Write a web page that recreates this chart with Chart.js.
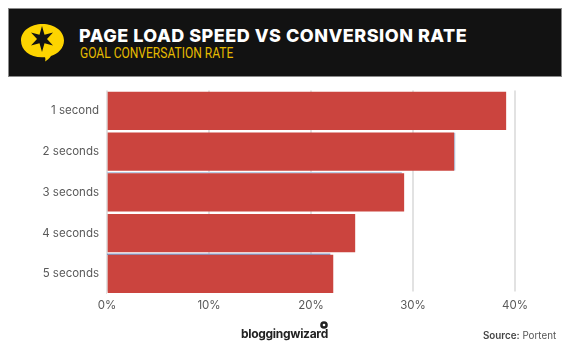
<!DOCTYPE html>
<html>
<head>
<meta charset="utf-8">
<script src="https://cdn.jsdelivr.net/npm/chart.js@4"></script>
<style>
    html, body { margin: 0; padding: 0; background: #fff; }
    #wrap { position: relative; width: 573px; height: 358px; overflow: hidden; }
    #myChart { position: absolute; left: 0; top: 0; }
    #header { position: absolute; left: 8px; top: 8px; width: 554px; height: 69px; background: #121212; border: 1px solid #8a8a8a; box-sizing: border-box; }
    #title { position: absolute; left: 79px; top: 25px; font: 800 18px Inter, sans-serif; letter-spacing: 0.5px; color: #fff; white-space: nowrap; }
    #subtitle { position: absolute; left: 80px; top: 44.5px; font: 400 14.5px Roboto, sans-serif; color: #e6bb00; white-space: nowrap; transform: scaleX(0.83); transform-origin: left center; }
    #logo { position: absolute; left: 21px; top: 24px; }
    #brand { position: absolute; left: 241px; top: 326px; font: 700 12px Inter, sans-serif; color: #222; letter-spacing: -0.3px; white-space: nowrap; }
    #source { position: absolute; left: 483px; top: 330px; font: 400 9.8px Inter, sans-serif; color: #555; white-space: nowrap; }
    #source b { font-weight: 600; color: #444; }
</style>
</head>
<body>
<div id="wrap">
    <canvas id="myChart" width="573" height="358"></canvas>
    <div id="header"></div>
    <svg id="logo" width="45" height="40" viewBox="0 0 45 40">
        <path d="M21.5 0C33.5 0 43 7 43 16.5C43 24 37 30 30 32C28.5 34.5 26 36.5 24 37.5C24.5 36 24.5 34.5 24 33.2C10 34.5 0 27 0 16.5C0 7 9.5 0 21.5 0Z" fill="#fdd400"/>
        <path d="M21 2L23.5 10.7L32 8.5L26 15L32 21.5L23.5 19.3L21 28L18.5 19.3L10 21.5L16 15L10 8.5L18.5 10.7Z" fill="#121212"/>
    </svg>
    <div id="title">PAGE LOAD SPEED VS CONVERSION RATE</div>
    <div id="subtitle">GOAL CONVERSATION RATE</div>
    <div id="brand">bloggingwizard</div>
    <svg style="position:absolute;left:319px;top:320px" width="10" height="10"><circle cx="5" cy="5" r="3.8" fill="#222"/><circle cx="5" cy="5" r="1.3" fill="#fff"/></svg>
    <div id="source"><b>Source:</b> Portent</div>
</div>
<script>
const categories = ['1 second', '2 seconds', '3 seconds', '4 seconds', '5 seconds'];
const conversionRate = [39.1, 34.0, 29.1, 24.3, 22.15];
// faint blue edges that peek out from behind the red bars in the original
const blueTopEdge = [null, null, 28.9, null, 21.9];
const blueTopColor = [null, null, '#b5c8e2', null, '#7f9ecf'];
const blueRightEdge = [null, 34.0, null, null, null];
const tickValues = [0, 10, 20, 30, 40];

const barSlivers = {
    id: 'barSlivers',
    beforeDatasetsDraw(chart) {
        const c = chart.ctx;
        const area = chart.chartArea;
        const xScale = chart.scales.x;
        // grid stops a little short of the plot edges
        c.fillStyle = '#fff';
        c.fillRect(area.left, 291.5, area.width + 2, 4);
        chart.getDatasetMeta(0).data.forEach((bar, i) => {
            const top = bar.y - bar.height / 2;
            if (blueTopEdge[i] !== null) {
                c.fillStyle = blueTopColor[i];
                c.fillRect(area.left, top - 1.5, xScale.getPixelForValue(blueTopEdge[i]) - area.left, 1.5);
            }
            if (blueRightEdge[i] !== null) {
                c.fillStyle = '#b5c8e2';
                c.fillRect(xScale.getPixelForValue(blueRightEdge[i]), top, 1.5, bar.height);
            }
        });
    }
};

const ctx = document.getElementById('myChart').getContext('2d');
const chart = new Chart(ctx, {
    type: 'bar',
    plugins: [barSlivers],
    data: {
        labels: categories,
        datasets: [{
            label: 'Goal conversation rate',
            backgroundColor: '#cb443e',
            data: conversionRate,
            barThickness: 37.7
        }]
    },
    options: {
        responsive: false,
        animation: false,
        indexAxis: 'y',
        layout: { padding: { top: 90.5, right: 58 } },
        plugins: { legend: { display: false }, tooltip: { enabled: false } },
        scales: {
            x: {
                min: 0,
                max: 40,
                afterBuildTicks: (scale) => { scale.ticks = tickValues.map(v => ({ value: v })); },
                afterFit: (scale) => { scale.height = 63.75; },
                grid: { color: '#e2e2e2', lineWidth: 2, drawTicks: false },
                border: { display: false },
                ticks: {
                    padding: 4,
                    color: '#595959',
                    font: { family: 'Inter', size: 11.5 },
                    callback: (v) => v + '%'
                }
            },
            y: {
                afterFit: (scale) => { scale.width = 107; },
                grid: { display: false, drawTicks: false },
                border: { display: false },
                ticks: {
                    padding: 8,
                    color: '#595959',
                    font: { family: 'Inter', size: 11.5 }
                }
            }
        }
    }
});
</script>
</body>
</html>
